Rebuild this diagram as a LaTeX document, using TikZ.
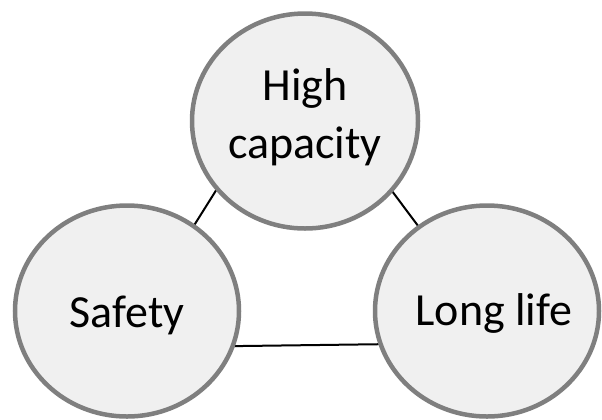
\documentclass[tikz,border=0pt]{standalone}
\usepackage{fontspec}
\setmainfont{Carlito}
\usetikzlibrary{shapes.geometric,backgrounds}
\definecolor{ringgray}{HTML}{7F7F7F}
\definecolor{ringfill}{HTML}{F0F0F0}
\tikzset{
  bubble/.style={ellipse, draw=ringgray, fill=ringfill, line width=4.5bp,
    inner sep=0pt},
  bubbletext/.style={inner sep=0pt, align=center, text=black,
    font=\fontsize{46bp}{58bp}\selectfont},
  link/.style={draw=black, line width=2bp, shorten <=-4bp, shorten >=-4bp}
}
\begin{document}
\begin{tikzpicture}[x=1bp, y=-1bp]
\useasboundingbox (0,0) rectangle (602,419);
\node[bubble, minimum width=226bp, minimum height=215bp,
  label={[bubbletext, yshift=3.5bp]center:High\\capacity}] (hc) at (305,121) {};
\node[bubble, minimum width=224bp, minimum height=211bp,
  label={[bubbletext, yshift=-4.5bp]center:Safety}] (sf) at (127,311) {};
\node[bubble, minimum width=224bp, minimum height=211bp,
  label={[bubbletext, xshift=7bp, yshift=-2.75bp]center:Long life}] (ll) at (487,311) {};
\begin{scope}[on background layer]
\draw[link] (hc.218.6) -- (sf.52.3);
\draw[link] (hc.321.8) -- (ll.129.4);
\draw[link] (sf.342.8) -- (ll.197.2);
\end{scope}
\end{tikzpicture}
\end{document}
